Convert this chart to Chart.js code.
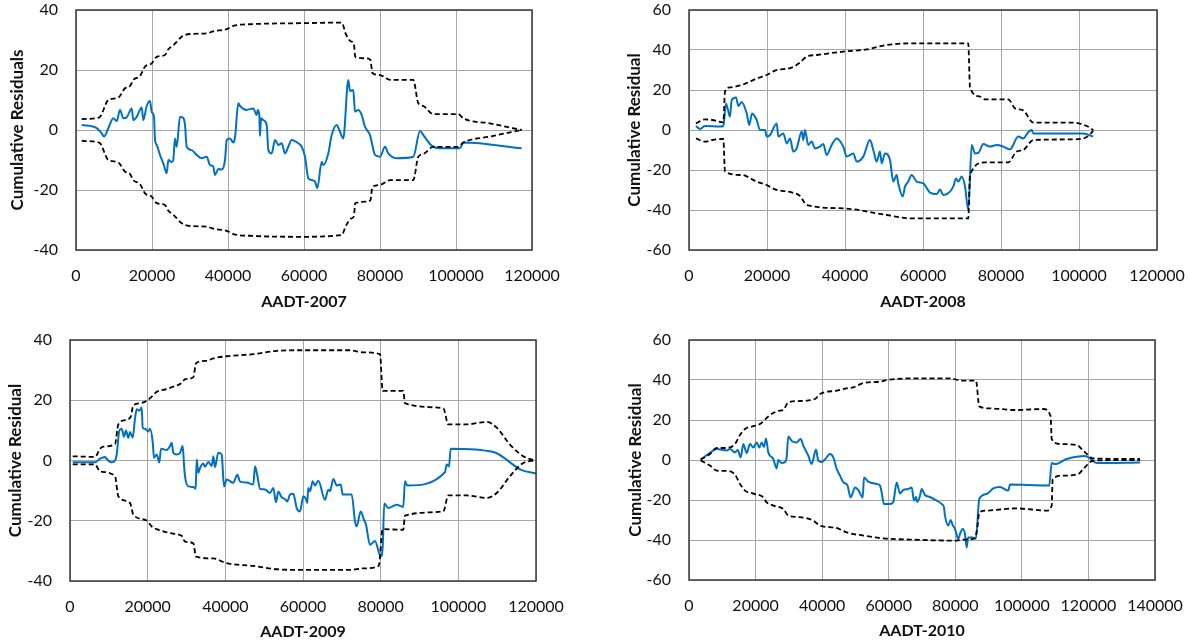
<!DOCTYPE html>
<html>
<head>
<meta charset="utf-8">
<script src="https://cdn.jsdelivr.net/npm/chart.js@4.4.1/dist/chart.umd.min.js"></script>
<style>
  html, body { margin: 0; padding: 0; background: #ffffff; }
  body { width: 1190px; height: 643px; position: relative; overflow: hidden; }
  canvas { position: absolute; }
</style>
</head>
<body>
<canvas id="c1" width="595" height="320" style="left:0;top:0"></canvas>
<canvas id="c2" width="595" height="320" style="left:595px;top:0"></canvas>
<canvas id="c3" width="595" height="323" style="left:0;top:320px"></canvas>
<canvas id="c4" width="595" height="323" style="left:595px;top:320px"></canvas>
<script>
// ---------------- DATA (AADT, cumulative residual) ----------------
const resid2007 = [[1500,1.7],[5450,0.6],[6760,-1.1],[7370,-2.2],[8500,0.6],[9820,3.9],[10710,3.0],[11580,6.7],[12450,3.9],[13340,4.2],[14660,7.2],[15080,3.3],[15970,4.4],[17290,7.5],[17710,3.3],[18600,8.0],[19470,9.7],[19920,6.0],[20530,4.4],[20790,-3.3],[21240,-5.0],[22100,-8.3],[22970,-11.1],[23870,-14.4],[24290,-10.0],[25180,-10.7],[25600,-10.0],[26050,-2.8],[26500,-5.6],[27370,4.4],[28240,4.0],[28680,1.7],[29130,-5.6],[30450,-6.7],[31760,-8.3],[33080,-9.4],[34400,-8.9],[35260,-11.7],[36130,-12.2],[36580,-15.0],[37450,-13.0],[38340,-13.2],[39210,-10.0],[39660,-3.3],[40530,-2.8],[41400,-4.2],[41840,-2.5],[42710,8.9],[43160,8.0],[44920,6.7],[46660,7.2],[47550,5.0],[47820,6.7],[48240,5.0],[48400,-2.0],[48700,3.9],[49290,3.3],[50180,1.7],[50610,-6.7],[51500,-7.8],[52370,-3.3],[53240,-5.0],[54130,-4.4],[55000,-7.8],[55870,-5.6],[56760,-3.3],[58500,-4.4],[59400,-5.6],[60260,-8.9],[61130,-16.1],[62030,-16.7],[62900,-17.2],[63500,-19.4],[64660,-10.6],[65100,-11.7],[66390,-7.8],[67290,-1.7],[68610,1.7],[69470,-0.6],[70340,-2.8],[71660,16.7],[72100,13.0],[72970,13.3],[73420,6.1],[74290,6.7],[75180,5.0],[76050,1.1],[77370,-1.7],[78690,-8.3],[80000,-8.9],[81320,-5.6],[82180,-7.8],[84390,-9.4],[88760,-8.9],[90530,-0.3],[91400,-1.7],[93610,-5.2],[95790,-6.1],[101050,-6.1],[101920,-4.2],[117290,-6.1]];
const upper2007 = [[1500,3.6],[5000,3.9],[6316,4.4],[8500,10.0],[11130,10.8],[12900,13.9],[14200,14.6],[15080,16.7],[16840,18.0],[18160,21.1],[19920,22.2],[21240,24.4],[23420,25.0],[24290,26.9],[25600,28.2],[27820,31.1],[30000,32.0],[34400,32.2],[36130,32.9],[39660,33.6],[41400,34.7],[46660,35.3],[58950,35.6],[69920,35.8],[71000,32.0],[72400,29.5],[73100,28.9],[73500,24.4],[76500,23.9],[77500,23.3],[78000,19.0],[80000,18.3],[82630,16.7],[88760,16.7],[90080,8.9],[91400,8.0],[94030,5.3],[100600,5.3],[101900,3.9],[108950,2.2],[117300,0]];
const lower2007 = [[1500,-3.6],[5000,-3.9],[6316,-4.4],[8500,-10.0],[11130,-10.8],[12900,-13.9],[14200,-14.6],[15080,-16.7],[16840,-18.0],[18160,-21.1],[19920,-22.2],[21240,-24.4],[23420,-25.0],[24290,-26.9],[25600,-28.2],[27820,-31.1],[30000,-32.0],[34400,-32.2],[36130,-32.9],[39660,-33.6],[41400,-34.7],[46660,-35.3],[58950,-35.6],[69920,-35.0],[71000,-32.0],[72400,-29.5],[73100,-28.9],[73500,-24.4],[76500,-23.9],[77500,-23.3],[78000,-19.0],[80000,-18.3],[82630,-16.7],[88760,-16.7],[90080,-8.9],[91400,-8.0],[94030,-5.6],[100600,-5.6],[101900,-4.2],[108950,-2.2],[117300,0]];

const resid2008 = [[1790,2],[2820,0.5],[4100,2],[7950,1.7],[8800,2],[9490,13.3],[10000,10],[10510,6.7],[10950,15],[12070,16.3],[12640,12],[13510,14],[14790,8.3],[15460,2.5],[16150,8.3],[17360,5],[18200,0],[19490,0],[19920,-3.3],[20770,-2.5],[22490,3.3],[22900,-3.3],[24180,-1.7],[25050,-6.7],[25900,-4.2],[26740,-10.8],[27610,-9.2],[28900,-0.8],[29300,-5],[29740,0],[30590,-7.5],[31460,-5.8],[32300,-9.2],[33590,-8.3],[34430,-7],[35310,-12.5],[36590,-7.5],[37870,-4.2],[39560,-8.3],[40430,-13.3],[42130,-11.7],[43000,-15.8],[44690,-13.3],[46410,-5],[47260,-10],[48130,-15.8],[48970,-10.8],[49410,-16.7],[50250,-11.7],[51540,-15],[52380,-25.8],[53250,-22.5],[53660,-26.7],[54790,-33.3],[55380,-28.3],[56230,-25.8],[57100,-22.5],[58380,-25.8],[60070,-26.7],[61790,-31.3],[63510,-32],[64360,-29.8],[65200,-32.5],[67770,-28.3],[68460,-24.2],[69050,-25.8],[69920,-23.3],[70770,-28.3],[71610,-40],[72490,-7.5],[73330,-11.7],[74180,-11.5],[75460,-7],[77180,-8.3],[78900,-7.5],[80590,-8.3],[82300,-9.7],[84430,-3.3],[85710,-4.2],[87000,-1],[87870,0],[88280,-1.7],[101100,-1.7],[103660,-3.3]];
const upper2008 = [[1790,3.3],[4100,5.3],[6000,5.0],[8800,3.8],[9230,19.2],[10510,21.3],[13510,22.5],[15640,24.2],[17360,25.8],[19920,27.5],[22050,29.7],[26330,31.2],[28460,33.7],[30180,36.7],[32740,37.5],[39560,39.2],[45560,40.3],[50690,42.5],[56660,43.3],[71610,43.3],[72050,21.3],[74610,16.7],[75890,15.3],[81870,15.3],[83590,10.8],[85710,9.8],[88280,3.7],[98540,3.7],[101970,2.0],[103660,0]];
const lower2008 = [[1790,-4.2],[4100,-5.8],[6000,-5.0],[8800,-4.5],[9230,-20.8],[13510,-22.5],[17360,-25.8],[19920,-27.5],[22050,-29.7],[26330,-31.2],[28460,-33],[30180,-37.5],[39560,-39.2],[50690,-42.5],[56660,-44.2],[71610,-44.2],[72050,-22.5],[75890,-16.2],[81870,-16.2],[84000,-10.8],[85710,-10.0],[88280,-5.0],[98540,-4.7],[101970,-3.5],[103660,-0.5]];

const resid2009 = [[700,-0.6],[6440,-0.6],[7730,0.6],[9010,1.2],[9400,0.6],[10740,-0.6],[11590,0],[12030,2],[12690,9.8],[13310,10.5],[13900,7.9],[14420,10],[15010,7.5],[15450,9.5],[16150,7.6],[16740,13.9],[17180,17],[17840,16.5],[18460,17.6],[18720,10.9],[19310,10.5],[20160,9.6],[20600,10.5],[21300,6.1],[21630,0.9],[22330,2],[23000,-0.7],[23430,3.9],[24900,3.5],[25750,4.8],[26190,5.9],[26600,2.6],[27480,2],[28330,2.5],[29020,4.8],[29360,-1.3],[29610,-5.2],[30460,-8.6],[31750,-8.8],[32370,-9.4],[32630,0.3],[33040,-4.1],[33480,-2.5],[34320,-1],[34760,-2.1],[35610,-0.5],[36490,-1.8],[36900,1.4],[37340,-2.2],[38190,2.6],[39060,2],[39660,-8.6],[40350,-6.3],[42050,-7.4],[43080,-4.7],[43780,-7],[45500,-7.3],[47200,-8],[47640,-1.9],[48230,-5],[48930,-9.4],[50210,-9.6],[51500,-10.8],[52350,-9.1],[53050,-13.9],[53640,-10.3],[54510,-12.2],[55360,-12.8],[55950,-13.6],[56650,-11.3],[57500,-11],[58380,-15.8],[59230,-16.9],[60080,-11.9],[60770,-12.8],[61100,-14.1],[61360,-9.1],[61800,-10.2],[62500,-6.9],[63090,-8.3],[63940,-6.7],[65660,-13],[66510,-9.7],[66950,-10.2],[67800,-6.1],[68680,-8.3],[69710,-8],[70220,-11.3],[72540,-11.3],[73390,-20.2],[73820,-21.9],[74850,-16.9],[75710,-19.7],[76220,-21.3],[77250,-28],[78540,-26.7],[80010,-31.9],[80520,-28.6],[80930,-14.3],[81960,-15.8],[84130,-14.7],[85820,-15.4],[86260,-6.9],[86850,-8.3],[96560,-3.9],[97000,-1.3],[97590,-2],[98030,3.9],[109000,2.8],[116310,-3.2],[120000,-4.3]];
const upper2009 = [[700,1.4],[6440,1.2],[7730,3.9],[8570,4.6],[11590,5.5],[12440,12],[14160,13.4],[15630,14.5],[16300,18.3],[18030,19],[19750,19.8],[21040,21.2],[22330,22.8],[24900,23.7],[26600,24.5],[28760,25.7],[29610,27],[31750,27.6],[32450,32.3],[35200,33.1],[36900,33.9],[40350,34.6],[47200,35.3],[53230,36.4],[59230,36.6],[72100,36.6],[75530,35.9],[79830,35.3],[80520,23.1],[85820,23.1],[86260,19],[96130,17.3],[97410,12],[102150,12],[107300,12.8],[109880,10.9],[113300,5.3],[116730,1.4],[119740,0]];
const lower2009 = [[700,-1.3],[6440,-1.3],[7730,-3.6],[11590,-5.2],[12440,-11.9],[15460,-14.1],[16300,-18],[19750,-19.9],[21040,-21.9],[22330,-22.8],[26600,-24.3],[28760,-25],[29610,-26.9],[31750,-27.5],[32450,-31.9],[36900,-32.5],[40350,-34.1],[47200,-35],[53230,-36.1],[59230,-36.3],[72100,-36.3],[75530,-35.8],[79500,-35],[80520,-22.8],[85820,-23],[86260,-18.3],[96130,-16.9],[97410,-11.6],[102150,-11.6],[107300,-12.4],[109880,-10.8],[113300,-5.2],[116730,-0.8],[119740,0]];

const resid2010 = [[3510,0.2],[5800,3],[8320,5.5],[11330,4.7],[12320,5.5],[13820,3.8],[14630,5],[15530,1.3],[16310,8],[17330,3.5],[18320,8],[19320,6.2],[20340,8.8],[21120,6.2],[21840,8.8],[22530,6.5],[23130,10.8],[23820,3.8],[25320,0.5],[26340,-4.2],[26830,0],[27850,-1.5],[28840,-1],[29350,1.5],[29830,11.8],[30850,9.5],[32350,8.8],[33550,10.5],[34340,7.2],[35840,2.2],[36860,-2],[38150,5.2],[38840,-0.3],[39860,-1],[40850,0.3],[42360,3],[43350,1.3],[44370,-4.5],[45360,-7.8],[46350,-11.2],[47550,-12.5],[48570,-18.7],[49870,-13.8],[50860,-15],[52180,-18.7],[52570,-8.7],[53860,-10.8],[56390,-12],[57380,-12.8],[57890,-16.3],[58580,-22],[60380,-22],[61370,-21],[62390,-11.2],[63380,-16.7],[64380,-15],[65880,-14.5],[66900,-13.7],[67590,-20.3],[68190,-18.5],[68580,-21],[69390,-18],[69900,-14.5],[70890,-17.5],[72400,-18.5],[74410,-20.3],[75910,-22],[76600,-23.7],[76900,-27.8],[77890,-32.8],[78610,-30],[79210,-32.5],[79910,-34.5],[80900,-39.5],[81410,-37],[82220,-34.5],[82910,-37],[83420,-43.7],[83900,-38.7],[85220,-38.7],[86210,-39.2],[87210,-19.5],[89430,-17],[91410,-14.2],[93420,-13.5],[95920,-15.3],[96430,-12.3],[107450,-12.7],[108230,-12.7],[108960,-1.5],[109950,-2],[113460,0.5],[116950,1.8],[118960,2],[120460,0.8],[122470,-1.5],[135480,-1.2]];
const upper2010 = [[3510,0.2],[6310,3],[8320,6],[10810,6],[13820,8],[15320,12.5],[16820,15.5],[19320,16.9],[21330,18],[22830,20.2],[24330,22.5],[27340,24.7],[28330,25],[29830,28.8],[33340,29.5],[37850,30.5],[39350,33],[44370,34.7],[47370,35.8],[49360,36.3],[52360,38.5],[57380,39.2],[59390,40],[66390,40.8],[78400,40.8],[81920,39.7],[86210,39.7],[87210,26.8],[90420,25.8],[98440,25],[106430,25.5],[108650,21.8],[108960,10.5],[111450,8],[116470,7.5],[118450,4.7],[121450,0.8],[135480,0.5]];
const lower2010 = [[3510,-0.2],[6310,-2.8],[8320,-5.3],[11600,-5.5],[13820,-7.3],[15320,-12],[16820,-15.3],[19320,-16.8],[22320,-18.7],[23340,-21.2],[25320,-22.8],[28330,-24.5],[29830,-27.8],[32800,-28.5],[37340,-30.3],[39350,-32.8],[44370,-34],[47370,-36.2],[52360,-37.8],[58370,-39.2],[66390,-39.8],[80420,-40.3],[82400,-39.8],[85910,-39.2],[86610,-33.7],[87210,-26.2],[89430,-25.3],[98440,-24.2],[107450,-25.3],[108960,-22.8],[109260,-9.5],[112440,-7.8],[116950,-7],[118450,-4.5],[121450,-0.3],[135480,0]];

const yTitles = ['Cumulative Residuals', 'Cumulative Residual', 'Cumulative Residual', 'Cumulative Residual'];
const xTitles = ['AADT-2007', 'AADT-2008', 'AADT-2009', 'AADT-2010'];

// ---------------- CHARTS ----------------
const toXY = arr => arr.map(p => ({x: p[0], y: p[1]}));

const framePlugin = {
  id: 'frame',
  afterDatasetsDraw(chart) {
    const {ctx, chartArea: a} = chart;
    ctx.save();
    ctx.strokeStyle = '#3a3a3a';
    ctx.lineWidth = 1.5;
    ctx.strokeRect(a.left, a.top, a.right - a.left, a.bottom - a.top);
    ctx.restore();
  }
};

const FONT = 'Lato, "Open Sans", sans-serif';

function makeChart(id, resid, upper, lower, yTitle, xTitle, lay) {
  const dash = {borderColor: '#000', borderWidth: 1.8, borderDash: [5, 3], pointRadius: 0,
                cubicInterpolationMode: 'monotone', fill: false};
  return new Chart(document.getElementById(id), {
    type: 'line',
    data: {
      datasets: [
        Object.assign({data: toXY(upper)}, dash),
        Object.assign({data: toXY(lower)}, dash),
        {data: toXY(resid), borderColor: '#0070C0', borderWidth: 2, pointRadius: 0,
         cubicInterpolationMode: 'monotone', fill: false}
      ]
    },
    options: {
      responsive: false,
      animation: false,
      devicePixelRatio: 1,
      layout: {padding: lay.pad},
      plugins: {legend: {display: false}, tooltip: {enabled: false}},
      scales: {
        x: {
          type: 'linear', min: 0, max: lay.xMax,
          afterFit: s => { s.height = lay.xH; s.paddingLeft = 0; s.paddingRight = 0; },
          grid: {color: '#a6a6a6', lineWidth: 1, drawTicks: false},
          border: {display: false},
          ticks: {stepSize: 20000, padding: 16, color: '#111', maxRotation: 0,
                  font: {family: FONT, size: 16}, callback: v => String(v)},
          title: {display: true, text: xTitle, color: '#111',
                  font: {family: FONT, size: 16, weight: 'bold'},
                  padding: {top: 0, bottom: lay.xtp}}
        },
        y: {
          min: lay.yMin, max: lay.yMax,
          afterFit: s => { s.width = lay.yW; s.paddingTop = 0; s.paddingBottom = 0; },
          grid: {color: '#a6a6a6', lineWidth: 1, drawTicks: false},
          border: {display: false},
          ticks: {stepSize: 20, padding: 18, color: '#111',
                  font: {family: FONT, size: 16}, callback: v => String(v)},
          title: {display: true, text: yTitle, color: '#111',
                  font: {family: FONT, size: 17, weight: 'bold'},
                  padding: {top: lay.ytp, bottom: 0}}
        }
      }
    },
    plugins: [framePlugin]
  });
}

makeChart('c1', resid2007, upper2007, lower2007, yTitles[0], xTitles[0],
  {pad: {left: 0, top: 10, right: 63, bottom: 0}, xMax: 120000, yMin: -40, yMax: 40, yW: 76, xH: 70, ytp: 7, xtp: 9});
makeChart('c2', resid2008, upper2008, lower2008, yTitles[1], xTitles[1],
  {pad: {left: 0, top: 10, right: 33, bottom: 0}, xMax: 120000, yMin: -60, yMax: 60, yW: 94, xH: 70, ytp: 29, xtp: 9});
makeChart('c3', resid2009, upper2009, lower2009, yTitles[2], xTitles[2],
  {pad: {left: 0, top: 20, right: 59, bottom: 0}, xMax: 120000, yMin: -40, yMax: 40, yW: 70, xH: 62, ytp: 5, xtp: 2});
makeChart('c4', resid2010, upper2010, lower2010, yTitles[3], xTitles[3],
  {pad: {left: 0, top: 20, right: 35, bottom: 0}, xMax: 140000, yMin: -60, yMax: 60, yW: 94, xH: 63, ytp: 30, xtp: 3});
</script>
</body>
</html>
